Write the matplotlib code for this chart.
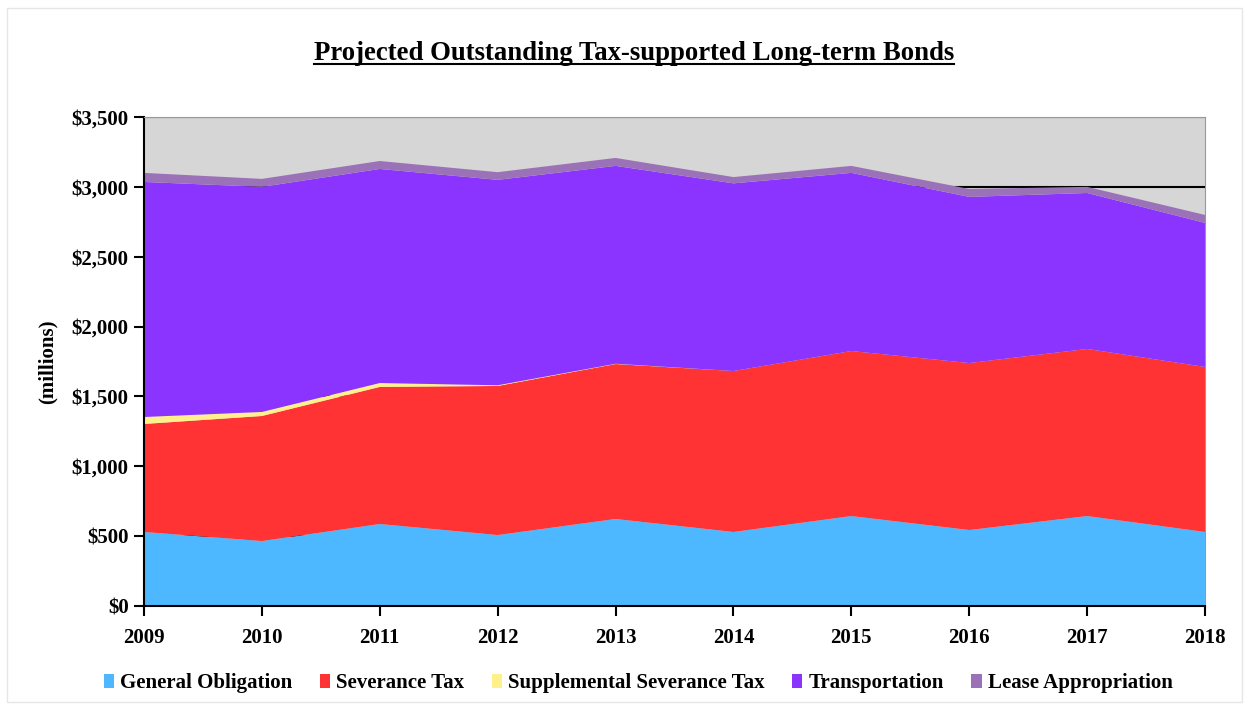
import matplotlib.pyplot as plt
from matplotlib.patches import Rectangle
from matplotlib.ticker import FuncFormatter

plt.rcParams['font.family'] = ['Liberation Serif', 'DejaVu Serif']
plt.rcParams['font.weight'] = 'bold'

years = [2009, 2010, 2011, 2012, 2013, 2014, 2015, 2016, 2017, 2018]
general_obligation = [530, 465, 587, 508, 623, 530, 644, 544, 644, 530]
severance_tax = [773, 895, 981, 1067, 1109, 1152, 1181, 1195, 1196, 1181]
supplemental_severance = [50, 29, 28, 5, 2, 0, 0, 0, 0, 0]
transportation = [1682, 1611, 1532, 1470, 1416, 1343, 1275, 1189, 1116, 1031]
lease_appropriation = [65, 57, 57, 55, 57, 45, 50, 57, 44, 57]

series = [general_obligation, severance_tax, supplemental_severance,
          transportation, lease_appropriation]
labels = ['General Obligation', 'Severance Tax', 'Supplemental Severance Tax',
          'Transportation', 'Lease Appropriation']
colors = ['#4DB8FF', '#FF3333', '#FFF08C', '#8B33FF', '#9B72B8']

fig = plt.figure(figsize=(12.49, 7.06), dpi=100)
fig.patches.append(Rectangle((0.006, 0.006), 0.988, 0.982, transform=fig.transFigure,
                             fill=False, edgecolor='#e6e6e6', linewidth=1))
ax = fig.add_axes([0.1153, 0.1416, 0.8495, 0.6927])
ax.set_facecolor('#D6D6D6')

ax.stackplot(years, *series, labels=labels, colors=colors, zorder=2)

ax.set_xlim(2009, 2018)
ax.set_ylim(0, 3500)
ax.set_yticks(range(0, 3501, 500))
ax.set_xticks(years)
ax.yaxis.set_major_formatter(FuncFormatter(lambda v, p: f'${int(v):,}'))
ax.yaxis.grid(True, color='black', linewidth=1.5)
ax.set_axisbelow(True)

for s in ['top', 'right']:
    ax.spines[s].set_color('#999999')
for s in ['left', 'bottom']:
    ax.spines[s].set_color('black')
    ax.spines[s].set_linewidth(1.5)
ax.tick_params(axis='both', labelsize=15, width=1.5, length=7, colors='black')
ax.tick_params(axis='x', pad=9)
ax.tick_params(axis='y', pad=4)
for t in ax.get_xticklabels() + ax.get_yticklabels():
    t.set_fontweight('bold')

ax.set_ylabel('(millions)', fontsize=15, fontweight='bold', labelpad=10)

title = fig.text(0.5076, 0.924, 'Projected Outstanding Tax-supported Long-term Bonds',
                 ha='center', va='center', fontsize=19.3, fontweight='bold')
fig.canvas.draw()
bb = title.get_window_extent().transformed(fig.transFigure.inverted())
fig.add_artist(plt.Line2D([bb.x0, bb.x1], [0.909, 0.909], color='black',
                          linewidth=1.5, transform=fig.transFigure))

leg = fig.legend(*ax.get_legend_handles_labels(), loc='center', bbox_to_anchor=(0.511, 0.032),
                 ncol=5, frameon=False, handlelength=0.5, handleheight=0.7,
                 handletextpad=0.3, columnspacing=1.3, prop={'weight': 'bold', 'size': 15})

fig.savefig('out.png', dpi=100)
